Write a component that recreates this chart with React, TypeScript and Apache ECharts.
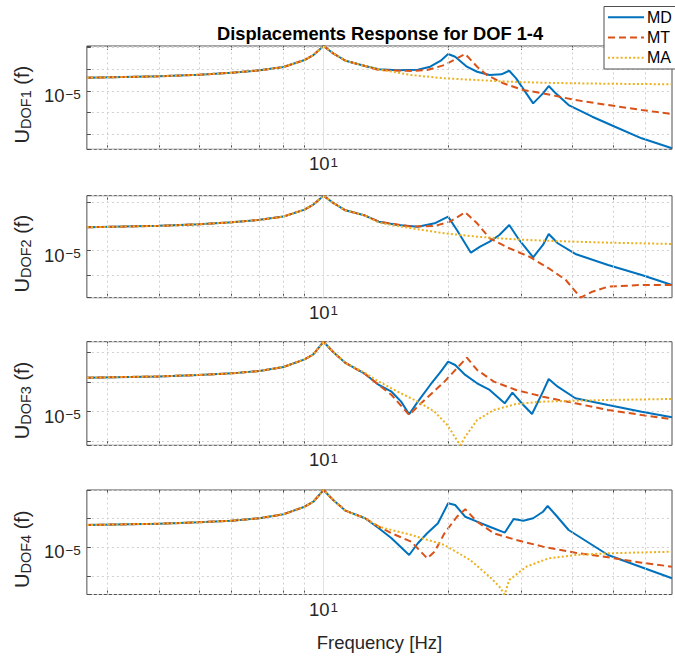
import React, { useEffect, useRef } from 'react';
import * as echarts from 'echarts';

// ---------- data ----------
const seriesNames = ['MD', 'MT', 'MA'];
const seriesColors = ['#0072BD', '#D95319', '#EDB120'];
const titleText = 'Displacements Response for DOF 1-4';
const xLabelText = 'Frequency [Hz]';
const yLabelSubs = ['DOF1', 'DOF2', 'DOF3', 'DOF4'];

const xMin = 2.68;
const xMax = 69.5;
const xMinorGrid = [3, 4, 5, 6, 7, 8, 9, 20, 30, 40, 50, 60];
const xTickValues = [3, 4, 5, 6, 7, 8, 9, 10, 20, 30, 40, 50, 60];
const xMajorTick = 10;
const yMajorTick = 1e-5;

// low-frequency part shared by all three curves
const commonFreq = [2.68, 4, 5, 6, 7, 8, 9, 9.45, 10, 10.55, 11.3];

// Panel 1 (DOF1)
const p1Range = [2.06e-8, 1.19e-3];
const p1Common = [4.10e-5, 4.75e-5, 5.63e-5, 6.96e-5, 8.99e-5, 1.28e-4, 2.69e-4, 4.56e-4, 1.19e-3, 5.46e-4, 2.49e-4];
const p1MdF = [12.6, 13.6, 15.1, 16.9, 18.1, 19.2, 20.0, 20.8, 22.2, 23.5, 25.2, 26.9, 28.1, 29.2, 30.9, 32.1, 33.9, 35.0, 36.4, 39.1, 44.6, 50.6, 58.7, 69.5];
const p1MdV = [1.42e-4, 1.0e-4, 8.99e-5, 9.6e-5, 1.32e-4, 2.49e-4, 5.07e-4, 3.81e-4, 1.32e-4, 7.74e-5, 5.45e-5, 5.89e-5, 8.61e-5, 3.85e-5, 7.83e-6, 2.71e-6, 7.83e-6, 1.70e-5, 7.83e-6, 2.26e-6, 6.54e-7, 2.26e-7, 6.61e-8, 2.29e-8];
const p1MtF = [12.6, 13.6, 16.3, 17.8, 19.6, 21.0, 22.0, 23.5, 24.8, 27.2, 30.4, 33.9, 40.6, 48.7, 58.7, 69.5];
const p1MtV = [1.42e-4, 9.29e-5, 8.35e-5, 9.29e-5, 1.58e-4, 3.21e-4, 5.07e-4, 1.32e-4, 5.45e-5, 2.27e-5, 1.11e-5, 7.83e-6, 3.85e-6, 2.26e-6, 1.33e-6, 8.71e-7];
const p1MaF = [12.6, 13.6, 16.3, 19.6, 23.5, 28.1, 33.9, 40.6, 48.7, 69.5];
const p1MaV = [1.42e-4, 1.0e-4, 5.45e-5, 3.85e-5, 3.21e-5, 2.69e-5, 2.41e-5, 2.27e-5, 2.17e-5, 2.04e-5];

// Panel 2 (DOF2)
const p2Range = [1.12e-7, 1.91e-3];
const p2Common = [9.35e-5, 1.07e-4, 1.24e-4, 1.51e-4, 1.90e-4, 2.60e-4, 5.07e-4, 8.18e-4, 1.91e-3, 9.61e-4, 4.74e-4];
const p2MdF = [12.6, 13.6, 15.1, 16.9, 18.55, 20.0, 21.0, 22.7, 23.9, 25.2, 26.6, 28.1, 29.7, 32.1, 33.9, 35.0, 36.8, 40.6, 48.7, 58.7, 69.5];
const p2MdV = [2.86e-4, 1.60e-4, 1.16e-4, 9.9e-5, 1.37e-4, 2.58e-4, 7.23e-5, 8.26e-6, 1.47e-5, 2.36e-5, 4.48e-5, 1.16e-4, 2.78e-5, 5.32e-6, 1.73e-5, 4.93e-5, 2.03e-5, 7.30e-6, 2.55e-6, 9.82e-7, 3.78e-7];
const p2MtF = [12.6, 13.6, 16.3, 18.55, 20.2, 22.0, 23.5, 25.2, 28.1, 31.4, 35.0, 38.5, 41.8, 44.6, 48.7, 58.7, 69.5];
const p2MtV = [2.86e-4, 1.60e-4, 9.9e-5, 1.06e-4, 1.60e-4, 3.92e-4, 1.37e-4, 3.27e-5, 1.26e-5, 5.64e-6, 1.86e-6, 6.08e-7, 1.12e-7, 1.99e-7, 3.21e-7, 3.78e-7, 3.78e-7];
const p2MaF = [12.6, 13.6, 16.3, 19.6, 23.5, 28.1, 33.9, 40.6, 48.7, 69.5];
const p2MaV = [2.86e-4, 1.45e-4, 8.49e-5, 5.27e-5, 3.81e-5, 3.05e-5, 2.60e-5, 2.36e-5, 2.15e-5, 1.90e-5];

// Panel 3 (DOF3)
const p3Range = [7.45e-7, 2.23e-3];
const p3Common = [1.38e-4, 1.53e-4, 1.71e-4, 1.93e-4, 2.32e-4, 3.16e-4, 5.69e-4, 8.37e-4, 2.23e-3, 1.01e-3, 4.31e-4];
const p3MdF = [12.6, 13.6, 14.6, 15.4, 16.1, 16.9, 18.1, 19.2, 20.0, 20.8, 22.0, 23.5, 25.2, 27.4, 28.6, 30.4, 31.9, 33.9, 35.0, 36.8, 40.6, 48.7, 58.7, 69.5];
const p3MdV = [1.84e-4, 7.87e-5, 4.69e-5, 2.17e-5, 8.18e-6, 2.17e-5, 7.87e-5, 2.20e-4, 4.76e-4, 3.69e-4, 1.71e-4, 8.97e-5, 5.35e-5, 1.91e-5, 4.34e-5, 1.68e-5, 8.37e-6, 4.69e-5, 1.25e-4, 6.90e-5, 2.82e-5, 1.68e-5, 1.0e-5, 6.49e-6];
const p3MtF = [12.6, 13.6, 14.6, 16.1, 17.2, 19.6, 21.0, 22.2, 23.5, 25.8, 29.2, 33.9, 40.6, 48.7, 58.7, 69.5];
const p3MtV = [1.84e-4, 7.87e-5, 3.63e-5, 7.75e-6, 1.91e-5, 1.02e-4, 2.86e-4, 6.49e-4, 2.51e-4, 1.02e-4, 5.35e-5, 3.18e-5, 1.91e-5, 1.14e-5, 7.75e-6, 5.56e-6];
const p3MaF = [12.6, 13.6, 15.1, 16.9, 18.55, 19.9, 21.0, 21.4, 22.0, 23.5, 25.8, 29.2, 33.9, 40.6, 48.7, 69.5];
const p3MaV = [1.99e-4, 1.02e-4, 4.69e-5, 2.17e-5, 1.0e-5, 3.58e-6, 1.12e-6, 7.45e-7, 1.45e-6, 5.26e-6, 1.14e-5, 1.81e-5, 2.17e-5, 2.34e-5, 2.47e-5, 2.67e-5];

// Panel 4 (DOF4)
const p4Range = [2.39e-7, 9.62e-4];
const p4Common = [5.97e-5, 6.62e-5, 7.40e-5, 8.39e-5, 1.02e-4, 1.40e-4, 2.55e-4, 3.79e-4, 9.62e-4, 4.35e-4, 1.86e-4];
const p4MdF = [12.6, 13.6, 14.6, 16.1, 16.9, 17.8, 18.9, 20.0, 20.8, 22.0, 23.5, 25.2, 27.4, 28.8, 30.4, 32.1, 33.9, 34.8, 36.4, 39.1, 44.6, 48.7, 58.7, 69.5];
const p4MdV = [1.02e-4, 4.59e-5, 2.07e-5, 5.51e-6, 1.40e-5, 3.09e-5, 6.82e-5, 3.34e-4, 2.92e-4, 1.15e-4, 7.76e-5, 5.21e-5, 3.24e-5, 9.61e-5, 8.39e-5, 1.02e-4, 1.71e-4, 2.70e-4, 1.32e-4, 4.01e-5, 1.22e-5, 5.51e-6, 2.08e-6, 8.67e-7];
const p4MtF = [12.6, 13.6, 14.6, 16.3, 17.8, 18.55, 19.6, 21.0, 22.0, 23.5, 25.8, 29.2, 33.9, 40.6, 48.7, 58.7, 69.5];
const p4MtV = [1.02e-4, 5.21e-5, 3.09e-5, 1.58e-5, 4.24e-6, 7.16e-6, 3.09e-5, 1.15e-4, 2.08e-4, 7.76e-5, 3.09e-5, 1.82e-5, 1.07e-5, 6.62e-6, 4.59e-6, 2.99e-6, 2.18e-6];
const p4MaF = [12.6, 13.6, 16.3, 19.6, 22.6, 25.2, 26.6, 27.4, 28.1, 30.9, 35.0, 40.6, 48.7, 69.5];
const p4MaV = [1.02e-4, 5.21e-5, 2.70e-5, 1.22e-5, 3.71e-6, 9.84e-7, 4.45e-7, 2.39e-7, 7.57e-7, 2.18e-6, 4.24e-6, 5.51e-6, 6.31e-6, 7.16e-6];

// ---------- helpers ----------
const zip = (f: number[], v: number[]) => f.map((x, i) => [x, v[i]]);
const build = (common: number[], f: number[], v: number[]) => [...zip(commonFreq, common), ...zip(f, v)];

const panels = [
  { range: p1Range, curves: [build(p1Common, p1MdF, p1MdV), build(p1Common, p1MtF, p1MtV), build(p1Common, p1MaF, p1MaV)] },
  { range: p2Range, curves: [build(p2Common, p2MdF, p2MdV), build(p2Common, p2MtF, p2MtV), build(p2Common, p2MaF, p2MaV)] },
  { range: p3Range, curves: [build(p3Common, p3MdF, p3MdV), build(p3Common, p3MtF, p3MtV), build(p3Common, p3MaF, p3MaV)] },
  { range: p4Range, curves: [build(p4Common, p4MdF, p4MdV), build(p4Common, p4MtF, p4MtV), build(p4Common, p4MaF, p4MaV)] },
];

// layout (pixels)
const gridTops = [46, 195.7, 341.7, 490];
const gridHeights = [103.3, 102, 103.6, 104.5];
const gridLeft = 84;
const gridWidth = 594;

const FONT = 'Arial, "Liberation Sans", Helvetica, sans-serif';
const AX = '#262626';
const BORDER = '#4f4f4f';
const MAJOR_GRID = '#e2e2e2';
const MINOR_GRID = '#d0d0d0';
const lineTypes: any[] = ['solid', [7, 4], [2, 2.2]];
const lineWidths = [2, 2, 2];

// legend box (runs past the right edge of the figure, as in the source)
const legendBox = { x: 604, y: 6.5, w: 120, h: 62.5 };
const legendRowY = [17.3, 37.5, 57.7];
const legendLineX = [608, 644];

const isPow = (v: number, p: number) => Math.abs(Math.log10(v) - p) < 1e-6;

const supRich = {
  b: { fontSize: 18.5, fontFamily: FONT, color: AX, lineHeight: 18, verticalAlign: 'bottom' },
  e: { fontSize: 13.5, fontFamily: FONT, color: AX, lineHeight: 13, verticalAlign: 'top', padding: [0, 0, 10, 1] },
};

export default function App() {
  const ref = useRef<HTMLDivElement>(null);
  useEffect(() => {
    if (!ref.current) return;
    const chart = echarts.init(ref.current, null, { renderer: 'svg' });

    const grid = panels.map((_, i) => ({
      left: gridLeft, top: gridTops[i], width: gridWidth, height: gridHeights[i],
      show: true, borderColor: BORDER, borderWidth: 1, backgroundColor: '#ffffff',
    }));

    const xAxis: any[] = [];
    panels.forEach((_, i) => {
      xAxis.push({
        type: 'log', logBase: 10, gridIndex: i, min: xMin, max: xMax, position: 'bottom',
        axisLine: { show: false },
        axisTick: { show: true, inside: true, length: 4, customValues: xTickValues, lineStyle: { color: BORDER } },
        axisLabel: {
          margin: 6, color: AX,
          formatter: (v: number) => (isPow(v, Math.log10(xMajorTick)) ? '{b|10}{e|1}' : ''),
          rich: supRich,
        },
        splitLine: { show: false },
        name: i === 3 ? xLabelText : '',
        nameLocation: 'middle', nameGap: 38,
        nameTextStyle: { fontSize: 18.5, fontFamily: FONT, color: AX },
      });
    });
    panels.forEach((_, i) => {
      xAxis.push({
        type: 'log', logBase: 10, gridIndex: i, min: xMin, max: xMax, position: 'top',
        axisLine: { show: false },
        axisTick: { show: true, inside: true, length: 4, customValues: xTickValues, lineStyle: { color: BORDER } },
        axisLabel: { show: false },
        splitLine: { show: false },
      });
    });

    const yAxis = panels.map((p, i) => ({
      type: 'log', logBase: 10, gridIndex: i, min: p.range[0], max: p.range[1],
      axisLine: { show: false },
      axisTick: { show: true, inside: true, length: 4, lineStyle: { color: BORDER } },
      axisLabel: {
        margin: 6, color: AX, padding: [10, 0, 0, 0],
        formatter: (v: number) => (isPow(v, Math.log10(yMajorTick)) ? '{b|10}{e|\u22125}' : ''),
        rich: supRich,
      },
      splitLine: { show: true, lineStyle: { color: MINOR_GRID, width: 1, type: [2, 3] } },
      name: '{u|U}{s|' + yLabelSubs[i] + '}{u| (f)}',
      nameLocation: 'middle', nameRotate: 90, nameGap: 46,
      nameTextStyle: {
        padding: [0, 14, 0, 0],
        rich: {
          u: { fontSize: 20, fontFamily: FONT, color: AX, lineHeight: 21, verticalAlign: 'top' },
          s: { fontSize: 14.5, fontFamily: FONT, color: AX, lineHeight: 14, verticalAlign: 'bottom', padding: [10, 0, 0, 0] },
        },
      },
    }));

    const series: any[] = [];
    panels.forEach((p, i) => {
      series.push({
        type: 'line', xAxisIndex: i, yAxisIndex: i, data: [[xMajorTick, yMajorTick]],
        symbol: 'none', silent: true, z: 1, lineStyle: { opacity: 0 },
        markLine: {
          silent: true, symbol: ['none', 'none'], label: { show: false },
          lineStyle: { color: MINOR_GRID, width: 1, type: [2, 3] },
          data: [
            ...xMinorGrid.map((v) => ({ xAxis: v })),
            { xAxis: xMajorTick, lineStyle: { color: MAJOR_GRID, width: 1, type: 'solid' } },
            { yAxis: yMajorTick, lineStyle: { color: MAJOR_GRID, width: 1, type: 'solid' } },
          ],
        },
      });
      p.curves.forEach((d, k) => {
        series.push({
          name: seriesNames[k], type: 'line', xAxisIndex: i, yAxisIndex: i, data: d,
          showSymbol: false, symbol: 'none', z: 3 + k, clip: true,
          itemStyle: { color: seriesColors[k] },
          lineStyle: { color: seriesColors[k], width: lineWidths[k], type: lineTypes[k] },
        });
      });
    });

    const legendGraphics: any[] = [
      {
        type: 'rect', z: 20, silent: true,
        shape: { x: legendBox.x, y: legendBox.y, width: legendBox.w, height: legendBox.h },
        style: { fill: '#ffffff', stroke: BORDER, lineWidth: 1 },
      },
    ];
    seriesNames.forEach((n, k) => {
      legendGraphics.push({
        type: 'line', z: 21, silent: true,
        shape: { x1: legendLineX[0], y1: legendRowY[k], x2: legendLineX[1], y2: legendRowY[k] },
        style: { stroke: seriesColors[k], lineWidth: 2, lineDash: lineTypes[k] === 'solid' ? null : lineTypes[k] },
      });
      legendGraphics.push({
        type: 'text', z: 21, silent: true, x: legendLineX[1] + 3, y: legendRowY[k],
        style: { text: n, fontSize: 16, fontFamily: FONT, fill: '#000', align: 'left', verticalAlign: 'middle' },
      });
    });

    chart.setOption({
      animation: false,
      backgroundColor: '#ffffff',
      grid, xAxis, yAxis, series,
      graphic: [
        {
          type: 'text', x: 380, y: 33, z: 10,
          style: { text: titleText, fontSize: 18.3, fontWeight: 'bold', fontFamily: FONT, fill: '#000', align: 'center', verticalAlign: 'middle' },
        },
        ...legendGraphics,
      ],
    });
    return () => chart.dispose();
  }, []);
  return <div ref={ref} style={{ position: 'absolute', left: 0, top: 0, width: 675, height: 661, background: '#fff' }} />;
}
